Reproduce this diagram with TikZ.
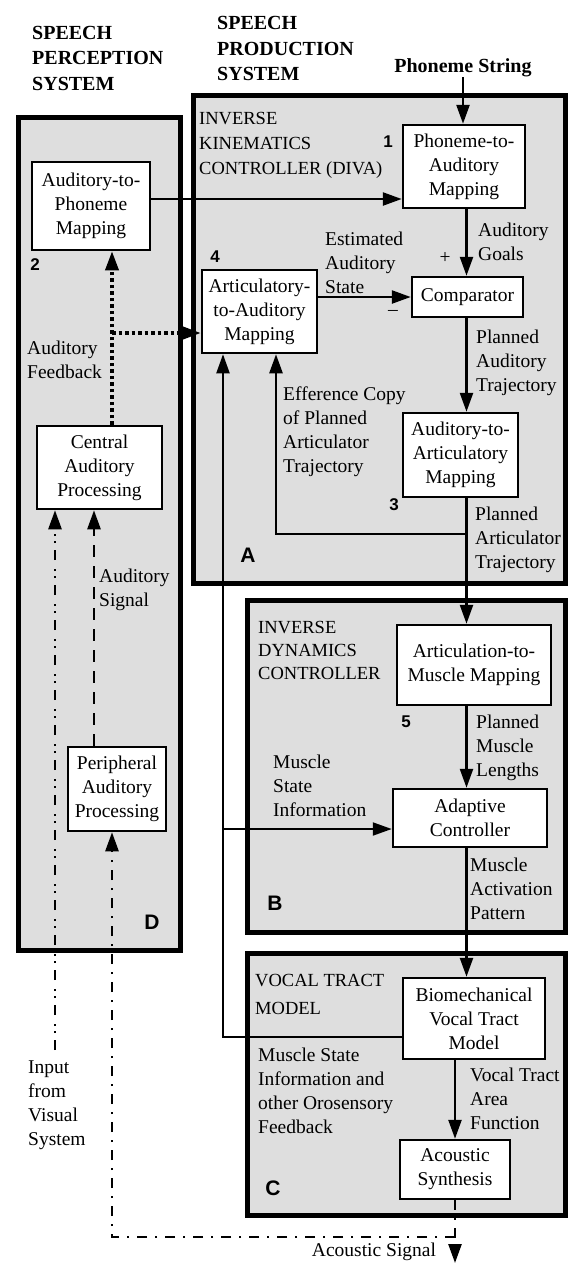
\documentclass[tikz,border=0pt]{standalone}
\usepackage{fontspec}
\setmainfont{Liberation Serif}
\newfontfamily\labelfont{Liberation Sans}
\usetikzlibrary{arrows.meta,positioning}

\begin{document}
\begin{tikzpicture}[x=1pt,y=-1pt,
    txt/.style={font=\fontsize{19.5}{24}\selectfont},
    block/.style={txt,draw,fill=white,line width=2.5pt,align=center,inner sep=0pt},
    group/.style={draw,fill=black!13,line width=5pt},
    lbl/.style={txt,anchor=west,align=left,inner sep=0pt},
    head/.style={anchor=west,align=left,inner sep=0pt,font=\fontsize{20}{25.5}\selectfont\bfseries},
    num/.style={inner sep=0pt,font=\fontsize{17}{17}\labelfont\bfseries},
    part/.style={inner sep=0pt,font=\fontsize{21}{21}\labelfont\bfseries},
    tip/.style={-{Triangle[length=19pt,width=13pt]}},
    arr/.style={tip,line width=2.5pt},
    ors/.style={tip,line width=2pt},
    fbk/.style={tip,line width=3.5pt,dash pattern=on 3.5pt off 3pt},
    sig/.style={tip,line width=2.5pt,dash pattern=on 12pt off 9pt},
    acu/.style={line width=2.5pt,dash pattern=on 10pt off 8pt on 2pt off 8pt},
    vis/.style={tip,line width=2.5pt,dash pattern=on 10pt off 7pt on 2pt off 5pt on 2pt off 9pt}]
   \fill[white] (0,0) rectangle (571,1270);
   \useasboundingbox (0,0) rectangle (571,1270);
   % subsystems
   \draw[group] (18,117) rectangle (180,950);   % D
   \draw[group] (193,95) rectangle (565,583);   % A
   \draw[group] (247,600) rectangle (565,932);  % B
   \draw[group] (247,953) rectangle (565,1215); % C
   % headings
   \node[head] (sps) at (32,58) {SPEECH\\PERCEPTION\\SYSTEM};
   \node[head] (spp) at (217,48.5) {SPEECH\\PRODUCTION\\SYSTEM};
   \node[inner sep=0pt,font=\fontsize{20}{24}\selectfont\bfseries] (ps) at (463,68) {Phoneme String};
   \node[lbl,font=\fontsize{18.5}{25}\selectfont] (ikc) at (199,145) {INVERSE\\KINEMATICS\\CONTROLLER (DIVA)};
   \node[lbl,font=\fontsize{18.5}{23}\selectfont] (idc) at (258,650) {INVERSE\\DYNAMICS\\CONTROLLER};
   \node[lbl,font=\fontsize{18.5}{28}\selectfont] (vtm) at (255,994) {VOCAL TRACT\\MODEL};
   % processing blocks
   \node[block,minimum width=118pt,minimum height=88pt] (apm) at (91,206) {Auditory-to-\\Phoneme\\Mapping};
   \node[block,minimum width=122pt,minimum height=83pt] (pam) at (464,166.5) {Phoneme-to-\\Auditory\\Mapping};
   \node[block,minimum width=115pt,minimum height=83pt] (aam) at (259.5,311.5) {Articulatory-\\to-Auditory\\Mapping};
   \node[block,minimum width=111pt,minimum height=40pt] (cmp) at (467.5,297) {Comparator};
   \node[block,minimum width=115pt,minimum height=84pt] (aar) at (460.5,455) {Auditory-to-\\Articulatory\\Mapping};
   \node[block,minimum width=125pt,minimum height=83pt] (cap) at (99.5,467.5) {Central\\Auditory\\Processing};
   \node[block,minimum width=154pt,minimum height=80pt] (amm) at (474,665) {Articulation-to-\\Muscle Mapping};
   \node[block,minimum width=154pt,minimum height=58pt] (adc) at (470,818) {Adaptive\\Controller};
   \node[block,minimum width=98pt,minimum height=84pt] (pap) at (117,789) {Peripheral\\Auditory\\Processing};
   \node[block,minimum width=142pt,minimum height=81pt] (bvt) at (474,1018.5) {Biomechanical\\Vocal Tract\\Model};
   \node[block,minimum width=110pt,minimum height=59pt] (acs) at (455,1169.5) {Acoustic\\Synthesis};
   % block numbers and subsystem letters
   \node[num] (n1) at (388,142) {1};
   \node[num] (n2) at (35,265) {2};
   \node[num] (n3) at (394,505) {3};
   \node[num] (n4) at (215,257) {4};
   \node[num] (n5) at (406,722) {5};
   \node[part] (pa) at (248,555) {A};
   \node[part] (pb) at (275,903) {B};
   \node[part] (pc) at (273,1188) {C};
   \node[part] (pd) at (152,922) {D};
   % connector labels
   \node[lbl] (agl) at (478,241.5) {Auditory\\Goals};
   \node[txt,inner sep=0pt] (plus) at (445,258) {+};
   \node[txt,inner sep=0pt] (minus) at (393,313) {--};
   \node[lbl] (eas) at (325,262.5) {Estimated\\Auditory\\State};
   \node[lbl] (pat) at (476,362.5) {Planned\\Auditory\\Trajectory};
   \node[lbl] (efc) at (283,432) {Efference Copy\\of Planned\\Articulator\\Trajectory};
   \node[lbl] (prt) at (475,540) {Planned\\Articulator\\Trajectory};
   \node[lbl] (afl) at (27,360) {Auditory\\Feedback};
   \node[lbl] (asl) at (99,590) {Auditory\\Signal};
   \node[lbl] (pml) at (476,747.5) {Planned\\Muscle\\Lengths};
   \node[lbl] (msl) at (273,785.5) {Muscle\\State\\Information};
   \node[lbl] (map) at (470,888.5) {Muscle\\Activation\\Pattern};
   \node[lbl] (ivs) at (28,1105.5) {Input\\from\\Visual\\System};
   \node[lbl] (oro) at (258,1090.5) {Muscle State\\Information and\\other Orosensory\\Feedback};
   \node[lbl] (vta) at (470,1099) {Vocal Tract\\Area\\Function};
   \node[txt,inner sep=0pt] (asg) at (374,1252) {Acoustic Signal};
   % production chain
   \coordinate (spine) at (466.5,0);
   \draw[arr] (ps.south) -- (ps.south |- pam.north);
   \draw[arr] ([yshift=7pt]apm.east) -- ([yshift=7pt]apm.east -| pam.west);
   \draw[arr] (pam.south -| spine) -- (cmp.north -| spine);
   \draw[arr] (aam.east |- cmp.west) -- (cmp.west);
   \draw[arr] (cmp.south -| spine) -- (aar.north -| spine);
   \draw[arr] (aar.south -| spine) -- (amm.north -| spine);
   \coordinate (eff) at (466.5,534);
   \draw[arr] (eff) -| ([xshift=16.5pt]aam.south);
   \draw[arr] (amm.south -| spine) -- (adc.north -| spine);
   \draw[arr] (adc.south -| spine) -- (bvt.north -| spine);
   \draw[arr] (acs.north |- bvt.south) -- (acs.north);
   % orosensory feedback
   \draw[ors] ([yshift=-18.5pt]bvt.west) -| ([xshift=-36.5pt]aam.south);
   \coordinate (msi) at (223,829);
   \draw[ors] (msi) -- (msi -| adc.west);
   % perception side
   \coordinate (split) at (455,1237);
   \coordinate (out) at (455,1263);
   \draw[acu,tip] (acs.south) -- (out);
   \draw[acu,tip] (split) -| ([xshift=-5pt]pap.south);
   \draw[sig] ([xshift=-23pt]pap.north) -- ([xshift=-23pt]pap.north |- cap.south);
   \coordinate (visin) at (55,1050);
   \draw[vis] (visin) -- (visin |- cap.south);
   \draw[fbk] ([xshift=12.5pt]cap.north) -- ([xshift=12.5pt]cap.north |- apm.south);
   \coordinate (afb) at (112,333);
   \draw[fbk] (afb) -- (afb -| aam.west);
\end{tikzpicture}
\end{document}
